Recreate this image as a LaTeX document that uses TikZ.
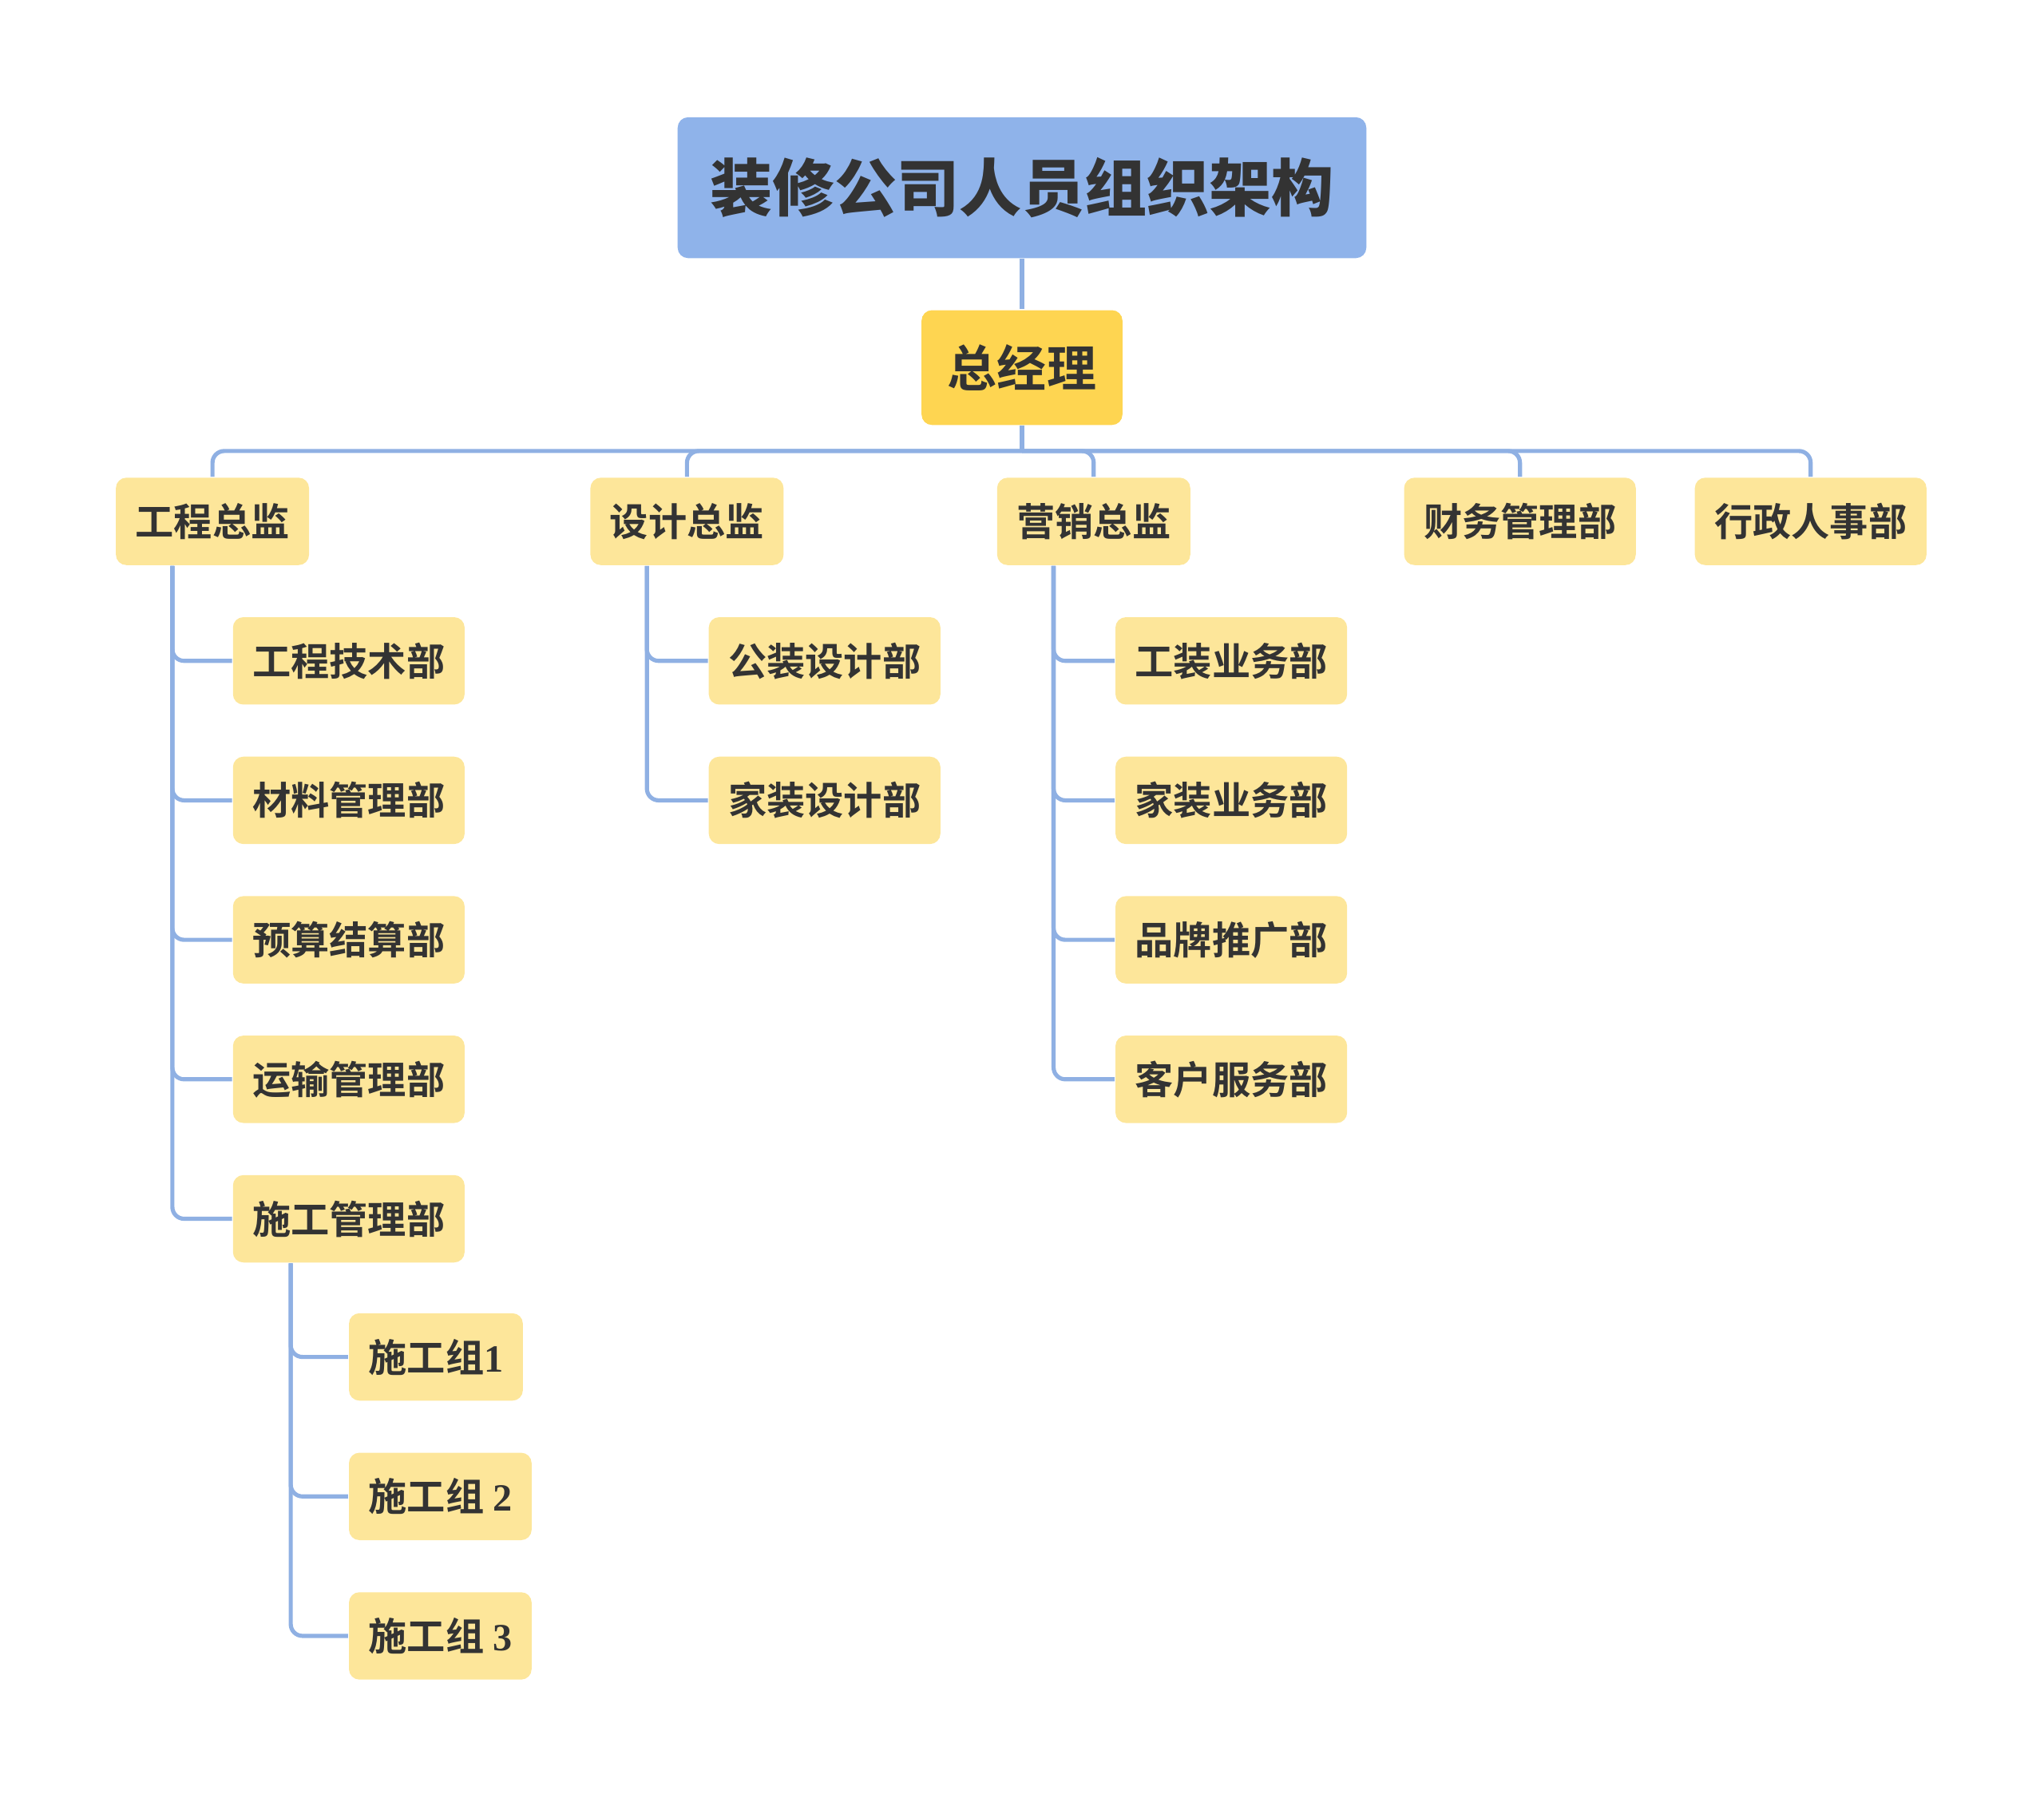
\documentclass[tikz,border=0pt]{standalone}
\usepackage{fontspec}
\setmainfont{Noto Sans CJK SC}[BoldFont={* Bold}]
\newfontfamily\heavyfont{Noto Sans CJK SC Black}
\newfontfamily\numfont{Liberation Serif}
\usetikzlibrary{positioning}
\definecolor{linkblue}{HTML}{8FB0E3}
\definecolor{titleblue}{HTML}{8FB3EA}
\definecolor{bossyellow}{HTML}{FED551}
\definecolor{deptyellow}{HTML}{FDE69A}
\definecolor{textgray}{HTML}{333333}
\tikzset{
  headbox/.style={fill=titleblue, rounded corners=0.08cm, minimum width=5.28cm, minimum height=1.08cm,
    text=textgray, font=\heavyfont\fontsize{13.6}{16}\selectfont},
  boss/.style={fill=bossyellow, rounded corners=0.08cm, minimum width=1.54cm, minimum height=0.88cm,
    text=textgray, font=\bfseries\fontsize{10.8}{13}\selectfont},
  dept/.style={fill=deptyellow, rounded corners=0.08cm, inner xsep=0.15cm, inner ysep=0pt,
    minimum height=0.67cm, text=textgray, font=\bfseries\fontsize{8.4}{10}\selectfont},
  link/.style={draw=linkblue, line width=0.9pt, rounded corners=0.09cm}
}
\begin{document}
\begin{tikzpicture}[x=0.01cm, y=-0.01cm]
  \useasboundingbox (0,0) rectangle (1568,1379);
  % Top
  \node[headbox] (top) at (784,144) {装修公司人员组织架构};
  \node[boss] (gm) at (784,282) {总经理};

  % Directors
  \node[dept] (eng) at (163,400) {工程总监};
  \node[dept] (des) at (527,400) {设计总监};
  \node[dept] (mkt) at (839,400) {营销总监};
  \node[dept] (fin) at (1166,400) {财务管理部};
  \node[dept] (adm) at (1389,400) {行政人事部};

  \coordinate (bus) at (784,346);
  \draw[link] (top) -- (gm);
  \draw[link] (gm) -- (bus);
  \foreach \d in {eng,des,mkt,fin,adm}
    \draw[link] (bus) -| (\d);

  % Engineering
  \foreach \n/\t [count=\i] in {eA/工程技术部, eB/材料管理部, eC/预算结算部, eD/运输管理部, eE/施工管理部}{
    \node[dept, anchor=west] (\n) at (178, 400+\i*107) {\t};
    \draw[link] ([xshift=0.44cm]eng.south west) |- (\n.west);
  }
  % Construction groups
  \node[dept, anchor=west] (gA) at (267,1041) {施工组{\numfont\bfseries 1}};
  \node[dept, anchor=west] (gB) at (267,1148) {施工组 {\numfont\bfseries 2}};
  \node[dept, anchor=west] (gC) at (267,1255) {施工组 {\numfont\bfseries 3}};
  \foreach \n in {gA,gB,gC}
    \draw[link] ([xshift=0.45cm]eE.south west) |- (\n.west);

  % Design
  \foreach \n/\t [count=\i] in {dA/公装设计部, dB/家装设计部}{
    \node[dept, anchor=west] (\n) at (543, 400+\i*107) {\t};
    \draw[link] ([xshift=0.44cm]des.south west) |- (\n.west);
  }

  % Marketing
  \foreach \n/\t [count=\i] in {mA/工装业务部, mB/家装业务部, mC/品牌推广部, mD/客户服务部}{
    \node[dept, anchor=west] (\n) at (855, 400+\i*107) {\t};
    \draw[link] ([xshift=0.44cm]mkt.south west) |- (\n.west);
  }
\end{tikzpicture}
\end{document}
